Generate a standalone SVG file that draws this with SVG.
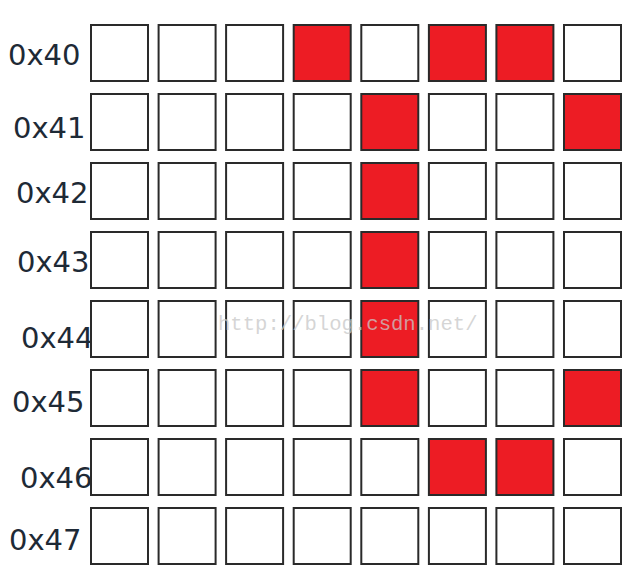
<svg xmlns="http://www.w3.org/2000/svg" width="638" height="586" viewBox="0 0 638 586">
<style>
.c{fill:#ffffff;stroke:#2a2a2a;stroke-width:2}
.r{fill:#ed1c24;stroke:#2a2a2a;stroke-width:2}
.l{font-family:"DejaVu Sans",sans-serif;font-size:29px;fill:#1e2a36}
.w{font-family:"Liberation Mono",monospace;font-size:20.6px;fill:#c8c8c8;fill-opacity:0.75}
</style>
<rect width="638" height="586" fill="#ffffff"/>
<g id="row40">
<text class="l" x="8" y="65">0x40</text>
<rect class="c" x="91" y="25" width="57" height="56"/>
<rect class="c" x="158.6" y="25" width="57" height="56"/>
<rect class="c" x="226.1" y="25" width="57" height="56"/>
<rect class="r" x="293.7" y="25" width="57" height="56"/>
<rect class="c" x="361.3" y="25" width="57" height="56"/>
<rect class="r" x="428.9" y="25" width="57" height="56"/>
<rect class="r" x="496.4" y="25" width="57" height="56"/>
<rect class="c" x="564" y="25" width="57" height="56"/>
</g>
<g id="row41">
<text class="l" x="13" y="138">0x41</text>
<rect class="c" x="91" y="94" width="57" height="56"/>
<rect class="c" x="158.6" y="94" width="57" height="56"/>
<rect class="c" x="226.1" y="94" width="57" height="56"/>
<rect class="c" x="293.7" y="94" width="57" height="56"/>
<rect class="r" x="361.3" y="94" width="57" height="56"/>
<rect class="c" x="428.9" y="94" width="57" height="56"/>
<rect class="c" x="496.4" y="94" width="57" height="56"/>
<rect class="r" x="564" y="94" width="57" height="56"/>
</g>
<g id="row42">
<text class="l" x="16" y="203">0x42</text>
<rect class="c" x="91" y="163" width="57" height="56"/>
<rect class="c" x="158.6" y="163" width="57" height="56"/>
<rect class="c" x="226.1" y="163" width="57" height="56"/>
<rect class="c" x="293.7" y="163" width="57" height="56"/>
<rect class="r" x="361.3" y="163" width="57" height="56"/>
<rect class="c" x="428.9" y="163" width="57" height="56"/>
<rect class="c" x="496.4" y="163" width="57" height="56"/>
<rect class="c" x="564" y="163" width="57" height="56"/>
</g>
<g id="row43">
<text class="l" x="17" y="272">0x43</text>
<rect class="c" x="91" y="232" width="57" height="56"/>
<rect class="c" x="158.6" y="232" width="57" height="56"/>
<rect class="c" x="226.1" y="232" width="57" height="56"/>
<rect class="c" x="293.7" y="232" width="57" height="56"/>
<rect class="r" x="361.3" y="232" width="57" height="56"/>
<rect class="c" x="428.9" y="232" width="57" height="56"/>
<rect class="c" x="496.4" y="232" width="57" height="56"/>
<rect class="c" x="564" y="232" width="57" height="56"/>
</g>
<g id="row44">
<text class="l" x="21" y="348">0x44</text>
<rect class="c" x="91" y="301" width="57" height="56"/>
<rect class="c" x="158.6" y="301" width="57" height="56"/>
<rect class="c" x="226.1" y="301" width="57" height="56"/>
<rect class="c" x="293.7" y="301" width="57" height="56"/>
<rect class="r" x="361.3" y="301" width="57" height="56"/>
<rect class="c" x="428.9" y="301" width="57" height="56"/>
<rect class="c" x="496.4" y="301" width="57" height="56"/>
<rect class="c" x="564" y="301" width="57" height="56"/>
</g>
<g id="row45">
<text class="l" x="12" y="412">0x45</text>
<rect class="c" x="91" y="370" width="57" height="56"/>
<rect class="c" x="158.6" y="370" width="57" height="56"/>
<rect class="c" x="226.1" y="370" width="57" height="56"/>
<rect class="c" x="293.7" y="370" width="57" height="56"/>
<rect class="r" x="361.3" y="370" width="57" height="56"/>
<rect class="c" x="428.9" y="370" width="57" height="56"/>
<rect class="c" x="496.4" y="370" width="57" height="56"/>
<rect class="r" x="564" y="370" width="57" height="56"/>
</g>
<g id="row46">
<text class="l" x="20" y="488">0x46</text>
<rect class="c" x="91" y="439" width="57" height="56"/>
<rect class="c" x="158.6" y="439" width="57" height="56"/>
<rect class="c" x="226.1" y="439" width="57" height="56"/>
<rect class="c" x="293.7" y="439" width="57" height="56"/>
<rect class="c" x="361.3" y="439" width="57" height="56"/>
<rect class="r" x="428.9" y="439" width="57" height="56"/>
<rect class="r" x="496.4" y="439" width="57" height="56"/>
<rect class="c" x="564" y="439" width="57" height="56"/>
</g>
<g id="row47">
<text class="l" x="9" y="550">0x47</text>
<rect class="c" x="91" y="508" width="57" height="56"/>
<rect class="c" x="158.6" y="508" width="57" height="56"/>
<rect class="c" x="226.1" y="508" width="57" height="56"/>
<rect class="c" x="293.7" y="508" width="57" height="56"/>
<rect class="c" x="361.3" y="508" width="57" height="56"/>
<rect class="c" x="428.9" y="508" width="57" height="56"/>
<rect class="c" x="496.4" y="508" width="57" height="56"/>
<rect class="c" x="564" y="508" width="57" height="56"/>
</g>
<g id="connectors"/>
<text class="w" x="218" y="330">http://blog.csdn.net/</text>
</svg>
